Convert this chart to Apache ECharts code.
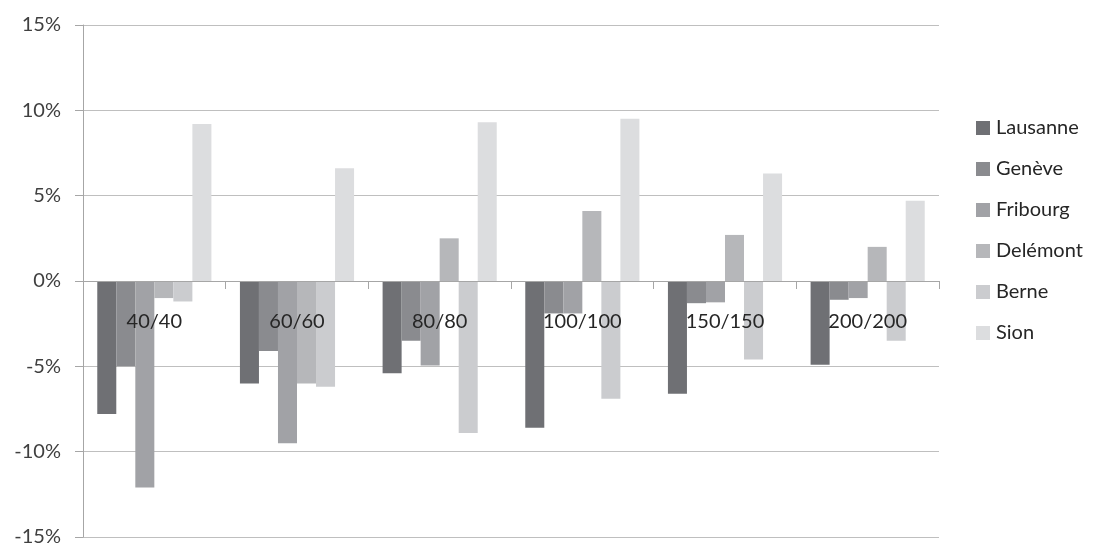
<!DOCTYPE html>
<html>
<head>
<meta charset="utf-8">
<script src="https://cdn.jsdelivr.net/npm/echarts@6/dist/echarts.min.js"></script>
<style>
html,body{margin:0;padding:0;background:#fff;}
#chart{width:1095px;height:547px;}
</style>
</head>
<body>
<div id="chart"></div>
<script>
const categories = ['40/40', '60/60', '80/80', '100/100', '150/150', '200/200'];
const seriesNames = ['Lausanne', 'Genève', 'Fribourg', 'Delémont', 'Berne', 'Sion'];
const lausanne = [-7.8, -6.0, -5.4, -8.6, -6.6, -4.9];
const geneve   = [-5.0, -4.1, -3.5, -1.9, -1.3, -1.1];
const fribourg = [-12.1, -9.5, -4.95, -1.9, -1.25, -1.0];
const delemont = [-1.0, -6.0, 2.5, 4.1, 2.7, 2.0];
const berne    = [-1.2, -6.2, -8.9, -6.9, -4.6, -3.5];
const sion     = [9.2, 6.6, 9.3, 9.5, 6.3, 4.7];
const yTicks = { min: -15, max: 15, interval: 5 };

const seriesData = [lausanne, geneve, fribourg, delemont, berne, sion];
const colors = ['#6f7074', '#8a8b8f', '#a1a2a6', '#b6b7ba', '#cbcccf', '#dcdddf'];
const font = 'Lato, "Open Sans", sans-serif';

const chart = echarts.init(document.getElementById('chart'));
chart.setOption({
  animation: false,
  backgroundColor: '#ffffff',
  color: colors,
  grid: { left: 83, right: 156, top: 25, bottom: 10, containLabel: false, outerBoundsMode: 'none' },
  legend: {
    orient: 'vertical',
    left: 971,
    top: 113,
    itemWidth: 14,
    itemHeight: 14,
    itemGap: 21,
    icon: 'rect',
    data: seriesNames,
    textStyle: { fontFamily: font, fontSize: 20, color: '#262626', padding: [0, 0, 0, 1] }
  },
  xAxis: {
    type: 'category',
    data: categories,
    z: 10,
    offset: 0,
    axisLine: { onZero: false, lineStyle: { color: '#a6a6a6', width: 1 } },
    axisTick: { show: true, length: 8, inside: false, lineStyle: { color: '#a6a6a6' } },
    axisLabel: { show: true, margin: 31, fontFamily: font, fontSize: 20, color: '#262626', hideOverlap: false },
    splitLine: { show: false }
  },
  yAxis: {
    type: 'value',
    min: yTicks.min,
    max: yTicks.max,
    interval: yTicks.interval,
    axisLine: { show: true, lineStyle: { color: '#a6a6a6' } },
    axisTick: { show: true, length: 8, lineStyle: { color: '#a6a6a6' } },
    axisLabel: { formatter: '{value}%', margin: 22, fontFamily: font, fontSize: 20, color: '#404040' },
    splitLine: { show: true, lineStyle: { color: '#bfbfbf', width: 1 } }
  },
  series: seriesNames.map((name, i) => ({
    name: name,
    type: 'bar',
    data: seriesData[i],
    barGap: '0%',
    barCategoryGap: '20%',
    itemStyle: { color: colors[i] }
  }))
});
// move the category axis (line, ticks, labels) up to the zero value line
const yZero = chart.convertToPixel({ yAxisIndex: 0 }, 0);
const yBottom = chart.convertToPixel({ yAxisIndex: 0 }, yTicks.min);
chart.setOption({ xAxis: { offset: yZero - yBottom } });
</script>
</body>
</html>
